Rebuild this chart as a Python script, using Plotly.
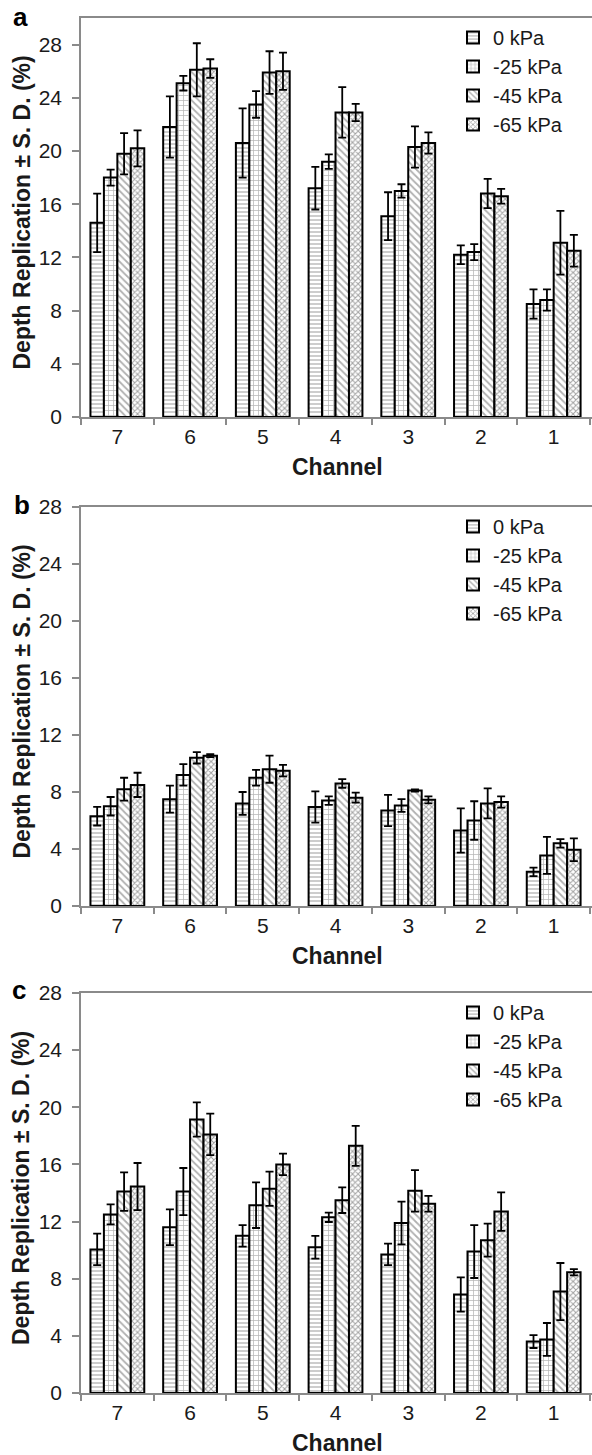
import plotly.graph_objects as go
from plotly.subplots import make_subplots

W, H = 592, 1455

channels = ["7", "6", "5", "4", "3", "2", "1"]
pressures = ["0 kPa", "-25 kPa", "-45 kPa", "-65 kPa"]

# Panel a: mean depth replication (%) and S.D.
a_0kpa = [14.6, 21.8, 20.6, 17.2, 15.1, 12.2, 8.5]
a_0kpa_sd = [2.2, 2.3, 2.6, 1.6, 1.8, 0.7, 1.1]
a_25kpa = [18.0, 25.1, 23.5, 19.2, 17.0, 12.4, 8.8]
a_25kpa_sd = [0.6, 0.55, 1.0, 0.55, 0.5, 0.6, 0.8]
a_45kpa = [19.8, 26.1, 25.9, 22.9, 20.3, 16.8, 13.1]
a_45kpa_sd = [1.55, 2.0, 1.6, 1.9, 1.55, 1.1, 2.4]
a_65kpa = [20.2, 26.2, 26.0, 22.9, 20.6, 16.6, 12.5]
a_65kpa_sd = [1.35, 0.7, 1.4, 0.65, 0.8, 0.55, 1.2]

# Panel b
b_0kpa = [6.3, 7.5, 7.2, 6.95, 6.7, 5.3, 2.4]
b_0kpa_sd = [0.65, 0.95, 0.8, 1.1, 1.1, 1.55, 0.3]
b_25kpa = [7.0, 9.2, 9.0, 7.4, 7.05, 6.0, 3.55]
b_25kpa_sd = [0.65, 0.75, 0.55, 0.3, 0.45, 1.35, 1.3]
b_45kpa = [8.2, 10.4, 9.6, 8.6, 8.1, 7.2, 4.4]
b_45kpa_sd = [0.8, 0.4, 0.95, 0.3, 0.08, 1.05, 0.3]
b_65kpa = [8.5, 10.55, 9.5, 7.6, 7.45, 7.3, 3.95]
b_65kpa_sd = [0.85, 0.1, 0.4, 0.35, 0.25, 0.4, 0.8]

# Panel c
c_0kpa = [10.05, 11.6, 11.0, 10.2, 9.7, 6.9, 3.6]
c_0kpa_sd = [1.1, 1.25, 0.75, 0.8, 0.75, 1.2, 0.45]
c_25kpa = [12.5, 14.1, 13.15, 12.3, 11.9, 9.9, 3.75]
c_25kpa_sd = [0.7, 1.65, 1.6, 0.33, 1.5, 1.85, 1.15]
c_45kpa = [14.1, 19.15, 14.3, 13.5, 14.15, 10.7, 7.1]
c_45kpa_sd = [1.35, 1.2, 1.2, 0.9, 1.45, 1.15, 2.0]
c_65kpa = [14.45, 18.1, 16.0, 17.3, 13.25, 12.7, 8.45]
c_65kpa_sd = [1.65, 1.45, 0.75, 1.4, 0.55, 1.35, 0.22]

panels = [
    ([a_0kpa, a_25kpa, a_45kpa, a_65kpa], [a_0kpa_sd, a_25kpa_sd, a_45kpa_sd, a_65kpa_sd]),
    ([b_0kpa, b_25kpa, b_45kpa, b_65kpa], [b_0kpa_sd, b_25kpa_sd, b_45kpa_sd, b_65kpa_sd]),
    ([c_0kpa, c_25kpa, c_45kpa, c_65kpa], [c_0kpa_sd, c_25kpa_sd, c_45kpa_sd, c_65kpa_sd]),
]
panel_letters = ["a", "b", "c"]
y_max = [30, 28, 28]

# ---- styling (pixel layout) ----
plot_px = [(18, 417), (507, 906), (993, 1393)]   # top, bottom of plot areas
letter_px = [(20, 17), (22, 505), (19, 990)]
left_px = 81
patterns = [
    dict(shape="-", size=4, solidity=0.35, fgcolor="#6e6e6e", bgcolor="white"),
    dict(shape="+", size=5, solidity=0.28, fgcolor="#6e6e6e", bgcolor="white"),
    dict(shape="\\", size=5, solidity=0.35, fgcolor="#606060", bgcolor="white"),
    dict(shape="x", size=4, solidity=0.45, fgcolor="#454545", bgcolor="white"),
]
FONT = "Liberation Sans, Arial, sans-serif"
AX_COLOR = "#8a8a8a"
TXT = "#1a1a1a"

def py(px):
    return 1 - px / H

fig = make_subplots(rows=3, cols=1)
legend_keys = ["legend", "legend2", "legend3"]

for p, (means, sds) in enumerate(panels):
    for s in range(4):
        fig.add_trace(
            go.Bar(
                x=channels, y=means[s], name=pressures[s],
                marker=dict(color="white", line=dict(color="black", width=2),
                            pattern=patterns[s]),
                error_y=dict(type="data", array=sds[s], visible=True,
                             color="black", thickness=1.8, width=4),
                legend=legend_keys[p],
            ),
            row=p + 1, col=1,
        )

layout = dict(
    width=W, height=H,
    margin=dict(l=0, r=0, t=0, b=0, autoexpand=False),
    paper_bgcolor="white", plot_bgcolor="white",
    barmode="group", bargap=0.26, bargroupgap=0,
    font=dict(family=FONT, color=TXT),
)

annotations = []
for p in range(3):
    top, bot = plot_px[p]
    xk = "xaxis" if p == 0 else f"xaxis{p+1}"
    yk = "yaxis" if p == 0 else f"yaxis{p+1}"
    layout[xk] = dict(
        domain=[left_px / W, 1], type="category", range=[-0.5, 6.527],
        showline=True, linecolor=AX_COLOR, linewidth=1.5, mirror=True,
        ticks="outside", tickson="boundaries", ticklen=6, tickcolor=AX_COLOR, tickwidth=1.5,
        tickfont=dict(size=21, family=FONT, color=TXT),
        showgrid=False, zeroline=False, automargin=False,
    )
    layout[yk] = dict(
        domain=[py(bot), py(top)], range=[0, y_max[p]], dtick=4, tick0=0,
        showline=True, linecolor=AX_COLOR, linewidth=1.5,
        ticks="outside", ticklen=7, tickcolor=AX_COLOR, tickwidth=1.5,
        tickfont=dict(size=21, family=FONT, color=TXT), ticklabelstandoff=6,
        showgrid=False, zeroline=False, automargin=False,
    )
    layout[legend_keys[p]] = dict(
        x=453 / W, y=py(top), xanchor="left", yanchor="top",
        font=dict(size=20, family=FONT, color=TXT),
        bgcolor="rgba(0,0,0,0)", tracegroupgap=0, itemclick=False,
    )
    lx, ly = letter_px[p]
    annotations.append(dict(text=f"<b>{panel_letters[p]}</b>", x=lx / W, y=py(ly),
                            xref="paper", yref="paper", xanchor="center", yanchor="middle",
                            showarrow=False, font=dict(size=26, family=FONT, color="black")))
    annotations.append(dict(text="<b>Depth Replication ± S. D. (%)</b>", x=21 / W,
                            y=py((top + bot) / 2 - 5), xref="paper", yref="paper",
                            xanchor="center", yanchor="middle",
                            textangle=-90, showarrow=False,
                            font=dict(size=23, family=FONT, color=TXT)))
    annotations.append(dict(text="<b>Channel</b>", x=337 / W, y=py(bot + 50),
                            xref="paper", yref="paper", xanchor="center", yanchor="middle",
                            showarrow=False,
                            font=dict(size=23, family=FONT, color=TXT)))

layout["annotations"] = annotations
layout["showlegend"] = True
fig.update_layout(**layout)

fig.write_html("out.html")
